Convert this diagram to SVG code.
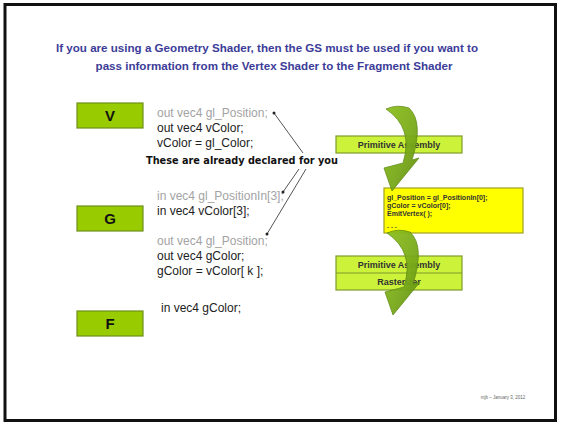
<svg xmlns="http://www.w3.org/2000/svg" width="561" height="424" viewBox="0 0 561 424">
<defs>
<style>
.title{font-family:"Liberation Sans",Arial,sans-serif;font-weight:bold;font-size:11.6px;fill:#3c3c98;text-anchor:middle}
.code{font-family:"Liberation Sans",Arial,sans-serif;font-size:12px;fill:#222}
.gray{fill:#a3a3a3}
.stage{fill:#99cc00;stroke:#6f8f1a;stroke-width:1.2}
.stagelbl{font-family:"Liberation Sans",Arial,sans-serif;font-weight:bold;font-size:15px;fill:#111;text-anchor:middle}
.pa{fill:#ccf23a;stroke:#7f9a2a;stroke-width:1.2}
.palbl{font-family:"Liberation Sans",Arial,sans-serif;font-weight:bold;font-size:9px;fill:#333;text-anchor:middle}
.ylw{font-family:"Liberation Sans",Arial,sans-serif;font-weight:bold;font-size:7px;fill:#333}
.conn{stroke:#555;stroke-width:1;fill:none}
.dot{fill:#222}
</style>
<linearGradient id="grn" x1="0" y1="0" x2="1" y2="1">
<stop offset="0" stop-color="#8fc21f"/>
<stop offset="0.6" stop-color="#78a81a"/>
<stop offset="1" stop-color="#5e8a10"/>
</linearGradient>
<path id="carrow" d="M386,109 Q414,128 403,163 L384,168 L392,191 L419,158 L412,160 Q424,122 409,108 Q397,104 386,109 Z" fill="url(#grn)" stroke="#5d8a12" stroke-width="0.8" opacity="0.95"/>
</defs>
<rect x="0" y="0" width="561" height="424" fill="#fff"/>
<rect x="5" y="4.5" width="550.5" height="416" fill="none" stroke="#111" stroke-width="3"/>

<g id="title">
<text class="title" x="267" y="52">If you are using a Geometry Shader, then the GS must be used if you want to</text>
<text class="title" x="274" y="70">pass information from the Vertex Shader to the Fragment Shader</text>
</g>

<g id="V">
<rect class="stage" x="77" y="103" width="66" height="25"/>
<text class="stagelbl" x="110" y="121">V</text>
</g>
<g id="G">
<rect class="stage" x="77" y="206" width="66" height="25"/>
<text class="stagelbl" x="110" y="224">G</text>
</g>
<g id="F">
<rect class="stage" x="77" y="311" width="66" height="25"/>
<text class="stagelbl" x="110" y="329">F</text>
</g>

<g id="vcode">
<text class="code gray" x="157" y="117">out vec4 gl_Position;</text>
<text class="code" x="157" y="132">out vec4 vColor;</text>
<text class="code" x="157" y="147">vColor = gl_Color;</text>
</g>
<g id="gcode">
<text class="code gray" x="157" y="200">in vec4 gl_PositionIn[3];</text>
<text class="code" x="157" y="215">in vec4 vColor[3];</text>
<text class="code gray" x="157" y="245">out vec4 gl_Position;</text>
<text class="code" x="157" y="260">out vec4 gColor;</text>
<text class="code" x="157" y="275">gColor = vColor[ k ];</text>
</g>
<g id="fcode">
<text class="code" x="161" y="312">in vec4 gColor;</text>
</g>

<g id="note">
<text x="146" y="164" font-family="'DejaVu Sans',sans-serif" font-weight="bold" font-size="11px" fill="#111" textLength="192" lengthAdjust="spacingAndGlyphs">These are already declared for you</text>
</g>

<g id="connectors">
<line class="conn" x1="303" y1="153" x2="274" y2="113"/>
<line class="conn" x1="299" y1="169" x2="283" y2="192"/>
<line class="conn" x1="306" y1="169" x2="267" y2="234"/>
<circle class="dot" cx="274" cy="113" r="1.5"/>
<circle class="dot" cx="283" cy="192" r="1.5"/>
<circle class="dot" cx="267" cy="234" r="1.5"/>
</g>

<g id="pa1">
<rect class="pa" x="336" y="136" width="126" height="17"/>
<text class="palbl" x="399" y="148">Primitive Assembly</text>
</g>
<g id="gsbox">
<rect x="384" y="188" width="139" height="45" fill="#ffff00" stroke="#a0a020" stroke-width="1.2"/>
<text class="ylw" x="387" y="200">gl_Position = gl_PositionIn[0];</text>
<text class="ylw" x="387" y="208">gColor = vColor[0];</text>
<text class="ylw" x="387" y="216">EmitVertex( );</text>
<text class="ylw" x="387" y="228" fill="#999">. . .</text>
</g>
<g id="pa2">
<rect class="pa" x="336" y="256" width="126" height="34"/>
<line x1="336" y1="273" x2="462" y2="273" stroke="#7f9a2a" stroke-width="1.2"/>
<text class="palbl" x="399" y="268">Primitive Assembly</text>
<text class="palbl" x="399" y="285">Rasterizer</text>
</g>

<g id="arrows">
<use href="#carrow"/>
<use href="#carrow" transform="translate(1,124)"/>
</g>

<g id="footer">
<text x="503" y="399" font-family="'Liberation Sans',Arial,sans-serif" font-size="4.5px" fill="#666" text-anchor="middle">mjb – January 3, 2012</text>
</g>
</svg>
